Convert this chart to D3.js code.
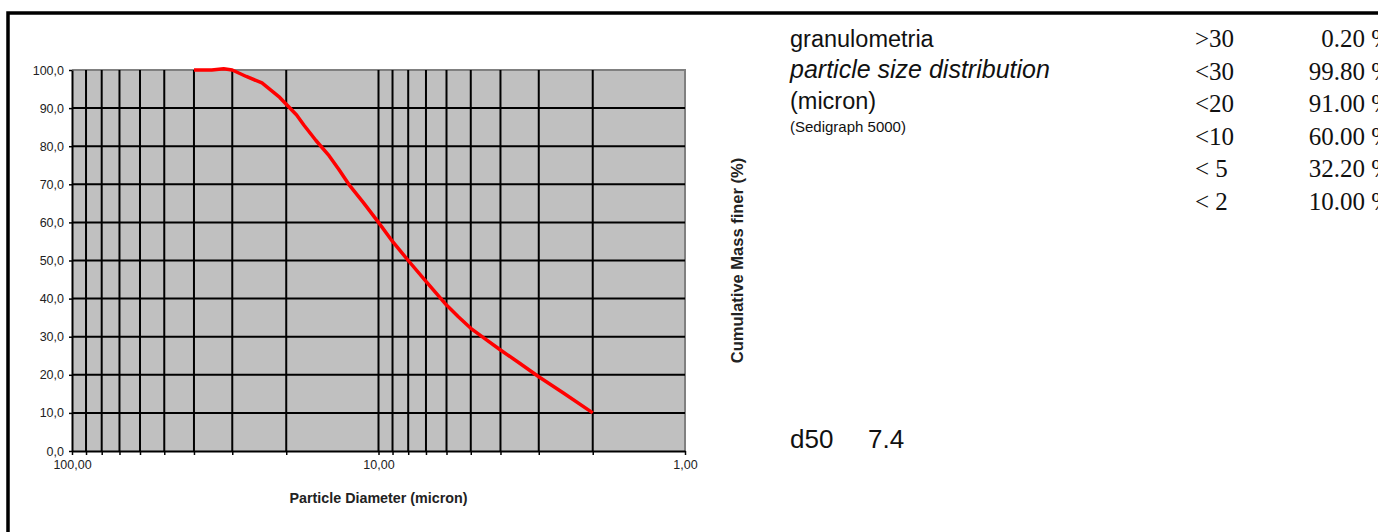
<!DOCTYPE html>
<html>
<head>
<meta charset="utf-8">
<script src="https://cdn.jsdelivr.net/npm/d3@7"></script>
<style>
  body { margin: 0; background: #fff; }
  svg { display: block; font-family: Arial, "Liberation Sans", sans-serif; }
</style>
</head>
<body>
<div id="chart"></div>
<script>
// curve: particle diameter (micron) vs cumulative mass finer (%)
var diameters = [40, 35, 32, 30, 27, 24, 22.5, 21, 20, 18.5, 17.5, 16, 14.5, 13.5, 12.5, 11.2, 10, 9, 8, 7, 6, 5.5, 5, 4.5, 4, 3.5, 3, 2.5, 2];
var finer = [100, 100, 100.3, 100, 98.3, 96.6, 94.8, 92.8, 91, 88.2, 85.5, 81.5, 77.5, 74, 70, 65.2, 60, 55, 50, 44.5, 38.3, 35.3, 32.2, 29.5, 26.5, 23.3, 19.5, 15.3, 10];

// gridlines / ticks
var xGrid = [100, 90, 80, 70, 60, 50, 40, 30, 20, 10, 9, 8, 7, 6, 5, 4, 3, 2, 1];
var xLabels = [100, 10, 1];
var yTicks = [0, 10, 20, 30, 40, 50, 60, 70, 80, 90, 100];

// summary table on the right
var classes = [">30", "<30", "<20", "<10", "< 5", "< 2"];
var percents = ["0.20 %", "99.80 %", "91.00 %", "60.00 %", "32.20 %", "10.00 %"];
var d50 = "7.4";

var svgWidth = 1378;
var svgHeight = 532;

var plot = { left: 72, right: 685, top: 70, bottom: 451 };

var svg = d3.select("#chart")
  .append("svg")
  .attr("width", svgWidth)
  .attr("height", svgHeight);

// outer frame (only top and left edges visible)
svg.append("rect")
  .attr("x", 8)
  .attr("y", 13)
  .attr("width", 1500)
  .attr("height", 600)
  .attr("fill", "none")
  .attr("stroke", "#000")
  .attr("stroke-width", 3.5);

var x = d3.scaleLog()
  .domain([100, 1])
  .range([plot.left, plot.right]);

var y = d3.scaleLinear()
  .domain([0, 100])
  .range([plot.bottom, plot.top]);

var comma = function(v, digits) {
  return v.toFixed(digits).replace(".", ",");
};

// plot background
svg.append("rect")
  .attr("x", plot.left)
  .attr("y", plot.top)
  .attr("width", plot.right - plot.left)
  .attr("height", plot.bottom - plot.top)
  .attr("fill", "#c0c0c0");

// top + right border of plot area (grey)
svg.append("path")
  .attr("d", `M${plot.left},${plot.top}H${plot.right}V${plot.bottom}`)
  .attr("fill", "none")
  .attr("stroke", "#808080")
  .attr("stroke-width", 2);

// horizontal gridlines
svg.append("g")
  .selectAll("line")
  .data(yTicks.filter(d => d > 0 && d < 100))
  .enter()
  .append("line")
  .attr("x1", plot.left)
  .attr("x2", plot.right)
  .attr("y1", d => y(d))
  .attr("y2", d => y(d))
  .attr("stroke", "#000")
  .attr("stroke-width", 2);

// vertical gridlines
svg.append("g")
  .selectAll("line")
  .data(xGrid.filter(d => d > 1 && d < 100))
  .enter()
  .append("line")
  .attr("x1", d => x(d))
  .attr("x2", d => x(d))
  .attr("y1", plot.top)
  .attr("y2", plot.bottom)
  .attr("stroke", "#000")
  .attr("stroke-width", 2);

// x axis
var bottomAxis = d3.axisBottom(x)
  .tickValues(xGrid)
  .tickSize(4)
  .tickSizeOuter(0)
  .tickFormat(d => xLabels.indexOf(d) >= 0 ? comma(d, 2) : "");

var xAxis = svg.append("g")
  .attr("transform", `translate(0, ${plot.bottom})`)
  .call(bottomAxis);

xAxis.select(".domain").attr("stroke", "#000").attr("stroke-width", 2);
xAxis.selectAll(".tick line").attr("stroke", "#000").attr("stroke-width", 1.5);
xAxis.selectAll("text")
  .attr("y", 9)
  .attr("font-size", 12.5)
  .attr("font-family", "Arial, 'Liberation Sans', sans-serif")
  .attr("fill", "#222");

// y axis
var leftAxis = d3.axisLeft(y)
  .tickValues(yTicks)
  .tickSize(3)
  .tickSizeOuter(0)
  .tickFormat(d => comma(d, 1));

var yAxis = svg.append("g")
  .attr("transform", `translate(${plot.left}, 0)`)
  .call(leftAxis);

yAxis.select(".domain").attr("stroke", "#000").attr("stroke-width", 2);
yAxis.selectAll(".tick line").attr("stroke", "#000").attr("stroke-width", 1.5);
yAxis.selectAll("text")
  .attr("x", -8)
  .attr("font-size", 12.5)
  .attr("font-family", "Arial, 'Liberation Sans', sans-serif")
  .attr("fill", "#222");

// curve
var line = d3.line()
  .x((d, i) => x(diameters[i]))
  .y(d => y(d));

svg.append("path")
  .datum(finer)
  .attr("d", line)
  .attr("fill", "none")
  .attr("stroke", "#ff0000")
  .attr("stroke-width", 3.5)
  .attr("stroke-linejoin", "round");

// axis titles
svg.append("text")
  .attr("x", (plot.left + plot.right) / 2)
  .attr("y", 503)
  .attr("text-anchor", "middle")
  .attr("font-size", 14.3)
  .attr("font-weight", "bold")
  .attr("fill", "#222")
  .text("Particle Diameter (micron)");

svg.append("text")
  .attr("transform", `translate(743, ${(plot.top + plot.bottom) / 2}) rotate(-90)`)
  .attr("text-anchor", "middle")
  .attr("font-size", 16.5)
  .attr("font-weight", "bold")
  .attr("fill", "#222")
  .text("Cumulative Mass finer (%)");

// description text
var info = svg.append("g").attr("fill", "#111");

info.append("text").attr("x", 790).attr("y", 47).attr("font-size", 23.5).text("granulometria");
info.append("text").attr("x", 790).attr("y", 78).attr("font-size", 25).attr("font-style", "italic").text("particle size distribution");
info.append("text").attr("x", 790).attr("y", 109).attr("font-size", 23.5).text("(micron)");
info.append("text").attr("x", 790).attr("y", 132).attr("font-size", 15).text("(Sedigraph 5000)");

info.append("text").attr("x", 790).attr("y", 448).attr("font-size", 26).text("d50");
info.append("text").attr("x", 868).attr("y", 448).attr("font-size", 26).text(d50);

// size class table (Times)
var rows = svg.append("g")
  .attr("font-family", "'Liberation Serif', 'DejaVu Serif', serif")
  .attr("font-size", 25)
  .attr("fill", "#111");

rows.selectAll("text.cls")
  .data(classes)
  .enter()
  .append("text")
  .attr("class", "cls")
  .attr("x", 1195)
  .attr("y", (d, i) => 47 + i * 32.5)
  .attr("xml:space", "preserve")
  .text(d => d);

rows.selectAll("text.pct")
  .data(percents)
  .enter()
  .append("text")
  .attr("class", "pct")
  .attr("x", 1392)
  .attr("y", (d, i) => 47 + i * 32.5)
  .attr("text-anchor", "end")
  .text(d => d);
</script>
</body>
</html>
